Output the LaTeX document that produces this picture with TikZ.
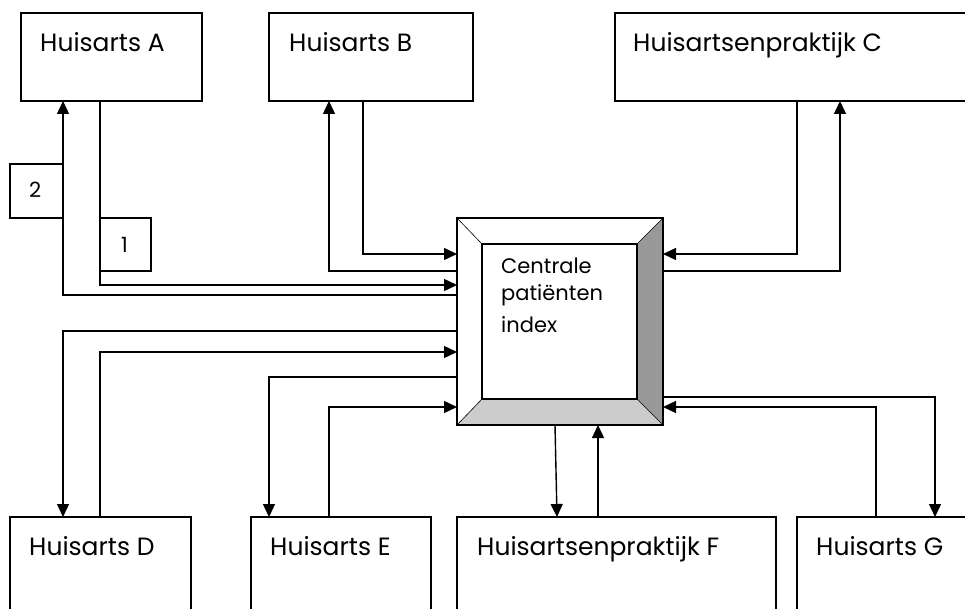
\documentclass[tikz,border=0pt]{standalone}
\usepackage{fontspec}
\setmainfont{Poppins}
\usetikzlibrary{arrows.meta}

\begin{document}
\begin{tikzpicture}[x=1pt,y=1pt,yscale=-1,xscale=1,
  box/.style={draw, line width=1.4pt, fill=white, inner sep=0pt, outer sep=0pt, anchor=north west},
  lbl/.style={anchor=base west, inner sep=0pt, font=\fontsize{25}{30}\selectfont},
  num/.style={anchor=base west, inner sep=0pt, font=\fontsize{21}{25}\selectfont},
  idx/.style={anchor=base west, inner sep=0pt, font=\fontsize{21}{25}\selectfont},
  link/.style={line width=1.4pt},
  arr/.style={link, -{Triangle[length=13pt,width=12pt]}}]
\useasboundingbox (0,0) rectangle (965,609);
\clip (0,0) rectangle (965,609);

%Shape: Rectangle [huisarts A]
\node [box, minimum width=181pt, minimum height=88pt] (A) at (21,13) {};
%Shape: Rectangle [huisarts B]
\node [box, minimum width=204pt, minimum height=88pt] (B) at (269,13) {};
%Shape: Rectangle [praktijk C]
\node [box, minimum width=380pt, minimum height=88pt] (C) at (615,13) {};
%Shape: Rectangle [huisarts D]
\node [box, minimum width=181pt, minimum height=120pt] (D) at (10,517) {};
%Shape: Rectangle [huisarts E]
\node [box, minimum width=180pt, minimum height=120pt] (E) at (251,517) {};
%Shape: Rectangle [praktijk F]
\node [box, minimum width=319pt, minimum height=120pt] (F) at (457,517) {};
%Shape: Rectangle [huisarts G]
\node [box, minimum width=200pt, minimum height=120pt] (G) at (797,517) {};

%Shape: Bevel [centrale index]
\node [box, minimum width=206pt, minimum height=207pt] (cpi) at (457,218) {};
\node [inner sep=0pt, outer sep=0pt, minimum width=155pt, minimum height=155pt] (cpiin) at (559.5,321.5) {};
\fill [black!40] (cpi.north east) -- (cpi.south east) -- (cpiin.south east) -- (cpiin.north east) -- cycle ;
\fill [black!20] (cpi.south west) -- (cpi.south east) -- (cpiin.south east) -- (cpiin.south west) -- cycle ;
\draw [line width=0.6pt] (cpi.north west) -- (cpiin.north west) (cpi.north east) -- (cpiin.north east) (cpi.south west) -- (cpiin.south west) (cpi.south east) -- (cpiin.south east) ;
\draw [line width=1.4pt] (cpi.north west) rectangle (cpi.south east) ;
\draw [line width=1.4pt] (cpiin.north west) rectangle (cpiin.south east) ;

%Shape: Rectangle [label boxes]
\node [box, minimum width=53pt, minimum height=54pt] (two) at (10,164) {};
\node [box, minimum width=51pt, minimum height=53pt] (one) at (100,218) {};

%Straight Lines [A]
\draw [arr] (A.south -| 100,0) |- (cpi.west |- 0,285) ;
\draw [arr] (cpi.west |- 0,295) -| (A.south -| 63,0) ;
%Straight Lines [B]
\draw [arr] (B.south -| 363,0) |- (cpi.west |- 0,254) ;
\draw [arr] (cpi.west |- 0,271) -| (B.south -| 329,0) ;
%Straight Lines [C]
\draw [arr] (C.south -| 797,0) |- (cpi.east |- 0,254) ;
\draw [arr] (cpi.east |- 0,271) -| (C.south -| 840,0) ;
%Straight Lines [D]
\draw [arr] (cpi.west |- 0,331) -| (D.north -| 63,0) ;
\draw [arr] (D.north -| 100,0) |- (cpi.west |- 0,352) ;
%Straight Lines [E]
\draw [arr] (cpi.west |- 0,377) -| (E.north -| 269,0) ;
\draw [arr] (E.north -| 329,0) |- (cpi.west |- 0,407) ;
%Straight Lines [F]
\draw [arr] (cpi.south -| 555,0) -- (F.north -| 557,0) ;
\draw [arr] (F.north -| 598,0) -- (cpi.south -| 598,0) ;
%Straight Lines [G]
\draw [arr] (cpi.east |- 0,397) -| (G.north -| 935,0) ;
\draw [arr] (G.north -| 876,0) |- (cpi.east |- 0,407) ;

% Text Node
\node [lbl] (tA) at (40,52) {Huisarts A};
% Text Node
\node [lbl] (tB) at (289,52) {Huisarts B};
% Text Node
\node [lbl] (tC) at (633,52) {Huisartsenpraktijk C};
% Text Node
\node [lbl] (tD) at (29,555) {Huisarts D};
% Text Node
\node [lbl] (tE) at (270,555) {Huisarts E};
% Text Node
\node [lbl] (tF) at (477,555) {Huisartsenpraktijk F};
% Text Node
\node [lbl] (tG) at (816,555) {Huisarts G};
% Text Node
\node [num] (ttwo) at (29,198) {2};
% Text Node
\node [num] (tone) at (121,253) {1};
% Text Node
\node [idx] (ti1) at (501,273) {Centrale};
\node [idx] (ti2) at (501,300) {patiënten};
\node [idx] (ti3) at (501,332) {index};

\end{tikzpicture}
\end{document}
